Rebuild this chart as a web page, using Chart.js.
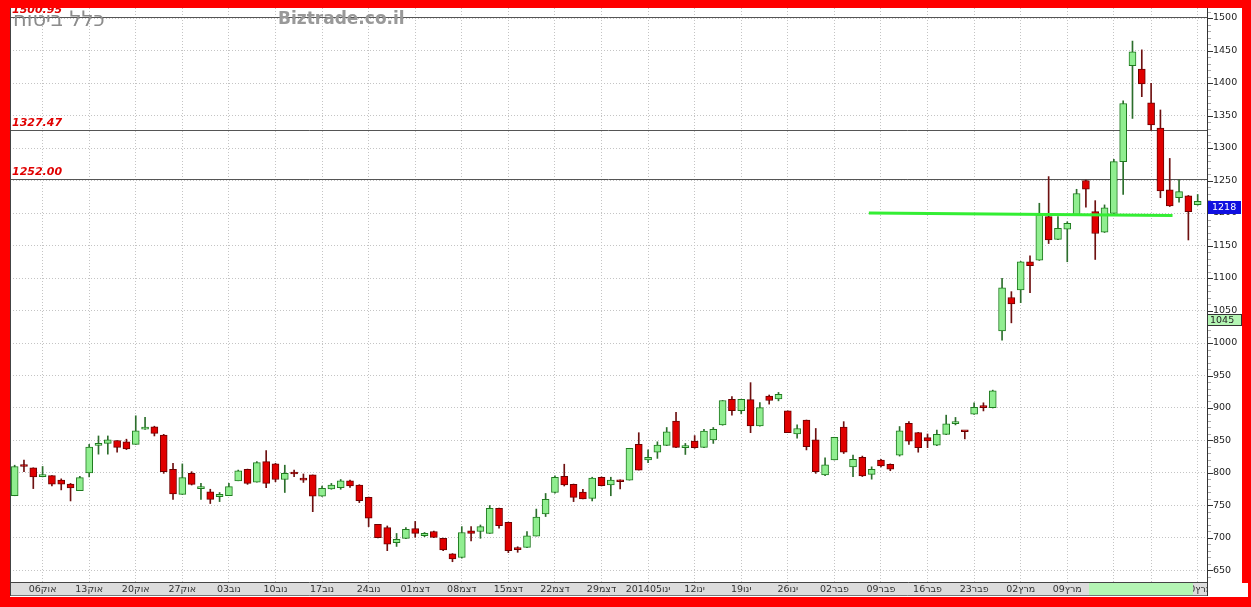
<!DOCTYPE html>
<html><head><meta charset="utf-8">
<script src="https://cdn.jsdelivr.net/npm/chart.js@4.4.1/dist/chart.umd.min.js"></script>
<style>html,body{margin:0;padding:0;background:#ff0000;overflow:hidden}canvas{display:block}</style>
</head><body>
<canvas id="c" width="1251" height="607"></canvas>
<script>
// ---- data (daily candles, index 0..127) ----
const opens  = [765,812,808,794.5,796,789,783,773,800,842.5,845.5,850,848,844,867.5,871,858.5,805.5,767,799.5,776,771,763.5,765,788,805.5,786,817.5,814,790,799.5,790.5,797,764.5,775.5,777.5,788,781.5,762.5,721,716,693,699.5,714.5,703.5,710,699.5,675.5,670,711,710,707,745.5,724,683,685.5,703,737,770,795,782.5,770.5,761,793.5,781.5,789,789,844,820,832,842.5,880,839,849,839.5,851,874,913.5,896,913,872.5,918.5,914,895.5,860,881.5,851,797,820,870.5,809.5,824,798,820,813.5,827.5,876.5,862,854.5,843,859.5,876,864.5,890.5,901.5,900.5,1018.5,1070,1081.5,1125,1127.5,1194.5,1159.5,1175,1198,1250,1202,1170.5,1199.5,1279,1426.5,1421.5,1369.5,1330.5,1235.5,1223.5,1226.5,1213];
const highs  = [812,820,808,810,796,791,784,795,844,857,857,850,852,888,885.5,872,859.5,815,814,802,784,775,770,784,804.5,806,817.5,834.5,815,812,804.5,798.5,797,780,784,790,789,782,763,721,718.5,707,716,725.5,708.5,710.5,700,676,717.5,717.5,720,750,746,724.5,686.5,710,744.5,768.5,795.5,813.5,783,775,793.5,794,793.5,789.5,838,862,835.5,848,870,893.5,845.5,857.5,867,870,911.5,917.5,913.5,939,908.5,920,924,895.5,874,881.5,868.5,823.5,855,879,827.5,826,809.5,821,814,871.5,879,862.5,860,866,889,885.5,864.5,908,908,927.5,1099.5,1079,1125.5,1134,1215,1256,1194.5,1186.5,1236.5,1250.5,1219,1212.5,1282.5,1372.5,1464.5,1451,1399.5,1358.5,1284,1251,1227,1228.5];
const lows   = [765,802,776,794,780,774,757,773,794,829,829,832,836,844,867,857,799.5,759.5,767,781.5,759.5,753,756,765,788,782.5,786,777.5,786.5,770,794.5,785.5,740.5,764,775,775,778,754.5,717.5,700,680.5,687,699,701,702,700.5,680.5,663.5,669,695.5,699.5,707,715,677.5,678,685,703,733,769,780,756,760,757,780,765,775.5,789,804.5,816,822.5,842,839,828.5,838,839,845.5,873.5,889,891,862,872,906,911,862,853.5,835.5,799.5,796,820,830,794.5,794.5,790.5,809.5,803.5,826,844,832,839,842,859,874,852.5,890,895.5,900,1004.5,1031,1062,1077.5,1127,1153,1159,1125,1197,1209,1128.5,1170,1199,1228.5,1345.5,1379,1327.5,1223.5,1210,1216.5,1158.5,1212];
const closes = [810,810,794,795.5,783,783,777,793,840,845.5,851,839.5,837,865,870,861,802,768,793,782.5,777,759.5,767,779,803.5,784,816,784,790,799.5,798.5,789,764.5,776.5,781.5,788,780,757.5,730.5,700.5,690.5,698,713.5,707,707,701,681.5,668,708.5,707,717.5,745.5,719,680.5,682,703.5,732,759.5,793.5,781.5,762.5,760,792,780.5,789,786.5,838,804.5,824,843,863.5,839.5,840,839,864.5,867,911.5,896,913.5,872.5,900.5,911.5,921,862,868.5,840.5,802,812.5,855,832,821,795.5,805.5,811,806,865,849,839,849.5,859.5,875.5,877,863.5,901,900.5,926.5,1085,1060,1125,1119,1197,1158.5,1176.5,1184,1230,1236.5,1168.5,1208,1279,1368.5,1448,1398.5,1335.5,1234,1211,1233,1202,1218];

// ---- axis ticks ----
const xTickIndex  = [3,8,13,18,23,28,33,38,43,48,53,58,63,68,73,78,83,88,93,98,103,108,113,118,122,127];
const xTickLabels = ['06אוק','13אוק','20אוק','27אוק','03נוב','10נוב','17נוב','24נוב','01דצמ','08דצמ','15דצמ','22דצמ','29דצמ','201405ינו','12ינו','19ינו','26ינו','02פבר','09פבר','16פבר','23פבר','02מרץ','09מרץ','16מרץ','23מרץ','30מרץ'];
const yTicks = [650,700,750,800,850,900,950,1000,1050,1100,1150,1200,1250,1300,1350,1400,1450,1500];

// ---- annotations ----
const levelValues = [1500.95, 1327.47, 1252.00];
const levelTexts  = ['1500.95', '1327.47', '1252.00'];
const trendX = [91.7, 124.3];
const trendY = [1200, 1196];
const lastTag = 1218;
const sideTag = 1045;
const titleText = 'כלל ביטוח';
const siteText = 'Biztrade.co.il';

const N = opens.length;
const idx = Array.from({length:N}, (_, i) => i);
const up = idx.map(i => closes[i] >= opens[i]);

const deco = {
  id: 'deco',
  beforeDraw(chart) {
    const {ctx, chartArea: a} = chart;
    ctx.save();
    ctx.fillStyle = '#ff0000'; ctx.fillRect(0, 0, 1251, 607);
    ctx.fillStyle = '#ffffff'; ctx.fillRect(10, 8, 1232, 589);
    ctx.fillStyle = '#dcdcdc'; ctx.fillRect(a.left, a.bottom, a.right - a.left, 14);
    ctx.restore();
  },
  beforeDatasetsDraw(chart) {
    const {ctx, chartArea: a, scales: {y}} = chart;
    ctx.save();
    ctx.strokeStyle = '#555'; ctx.lineWidth = 1;
    levelValues.forEach(v => {
      const py = Math.round(y.getPixelForValue(v)) + 0.5;
      ctx.beginPath(); ctx.moveTo(a.left, py); ctx.lineTo(a.right, py); ctx.stroke();
    });
    ctx.restore();
  },
  afterDraw(chart) {
    const {ctx, chartArea: a, scales: {y}} = chart;
    ctx.save();
    ctx.strokeStyle = '#777'; ctx.lineWidth = 1;
    ctx.beginPath(); ctx.moveTo(a.left, a.bottom + 13.5); ctx.lineTo(a.right, a.bottom + 13.5); ctx.stroke();
    ctx.strokeStyle = '#444';
    ctx.beginPath(); ctx.moveTo(a.left + 0.5, 8); ctx.lineTo(a.left + 0.5, a.bottom + 14); ctx.stroke();
    ctx.fillStyle = '#b4f5b4';
    ctx.fillRect(1089, a.bottom + 1, 104, 12);
    ctx.fillStyle = '#ffffff';
    ctx.fillRect(a.right + 1, a.bottom + 1, 40, 14);
    ctx.strokeStyle = '#333';
    ctx.beginPath(); ctx.moveTo(a.right + 0.5, 8); ctx.lineTo(a.right + 0.5, a.bottom + 14); ctx.stroke();
    for (let v = 640; v <= 1510; v += 10) {
      const py = Math.round(y.getPixelForValue(v)) + 0.5;
      const major = v % 50 === 0;
      ctx.strokeStyle = major ? '#333' : '#aaa';
      ctx.beginPath(); ctx.moveTo(a.right + 1, py); ctx.lineTo(a.right + (major ? 6 : 4), py); ctx.stroke();
    }
    ctx.font = 'italic bold 11px "DejaVu Sans"';
    ctx.fillStyle = '#e00000'; ctx.textBaseline = 'alphabetic'; ctx.textAlign = 'left';
    levelValues.forEach((v, k) => {
      const py = y.getPixelForValue(v);
      ctx.fillText(levelTexts[k], a.left + 2, py - 4);
    });
    ctx.fillStyle = '#999';
    ctx.font = 'bold 17px "DejaVu Sans"';
    ctx.fillText(siteText, 278, 24);
    ctx.font = '21px "DejaVu Sans"';
    ctx.fillStyle = '#8c8c8c';
    ctx.fillText(titleText, 13, 26);
    const ty = Math.round(y.getPixelForValue(lastTag));
    ctx.fillStyle = '#1010e0'; ctx.fillRect(a.right + 1, ty, 33, 13);
    ctx.fillStyle = '#fff'; ctx.font = '9.5px "DejaVu Sans"'; ctx.textBaseline = 'middle';
    ctx.fillText(String(lastTag), a.right + 5, ty + 7);
    const gy = Math.round(y.getPixelForValue(sideTag));
    ctx.fillStyle = '#b4f5b4'; ctx.fillRect(a.right + 1, gy, 34, 12);
    ctx.strokeStyle = '#333'; ctx.strokeRect(a.right + 0.5, gy + 0.5, 34, 11);
    ctx.fillStyle = '#222';
    ctx.fillText(String(sideTag), a.right + 3, gy + 6.5);
    ctx.fillStyle = '#ff0000'; ctx.fillRect(0, 0, 1251, 8);
    ctx.restore();
  }
};

new Chart(document.getElementById('c'), {
  type: 'bar',
  data: {
    datasets: [
      { type: 'line', data: trendX.map((x, k) => ({x, y: trendY[k]})), borderColor: '#33ee33', borderWidth: 3,
        pointRadius: 0, order: 0 },
      { label: 'body', data: idx.map(i => ({x: i, y: [opens[i], closes[i]]})),
        backgroundColor: idx.map(i => up[i] ? '#90ee90' : '#e00000'),
        borderColor: idx.map(i => up[i] ? '#1f7a1f' : '#6e0000'),
        borderWidth: 1, borderSkipped: false, barThickness: 7, grouped: false, minBarLength: 2, order: 1 },
      { label: 'wick', data: idx.map(i => ({x: i, y: [lows[i], highs[i]]})),
        backgroundColor: idx.map(i => up[i] ? '#2c6e2c' : '#6e1010'),
        borderWidth: 0, barThickness: 1, grouped: false, order: 2 }
    ]
  },
  options: {
    responsive: false, animation: false, events: [],
    plugins: { legend: { display: false }, tooltip: { enabled: false } },
    layout: { padding: { left: 10, top: 8, right: 9, bottom: 11 } },
    scales: {
      x: {
        type: 'linear', min: -0.5, max: 128, offset: false,
        afterBuildTicks: s => { s.ticks = xTickIndex.map(v => ({value: v})); },
        afterFit: s => { s.height = 14; s.paddingLeft = 0; s.paddingRight = 0; },
        grid: { offset: false, color: '#c4c4c4', lineWidth: 1, drawTicks: false },
        border: { display: true, color: '#444', dash: [1, 2] },
        ticks: { autoSkip: false, maxRotation: 0, padding: 2, color: '#333',
          font: { family: 'DejaVu Sans', size: 9.5 },
          callback: v => { const k = xTickIndex.indexOf(v); return k >= 0 ? xTickLabels[k] : ''; } }
      },
      y: {
        position: 'right', min: 632.3, max: 1515.4,
        afterBuildTicks: s => { s.ticks = yTicks.map(v => ({value: v})); },
        afterFit: s => { s.width = 35; s.paddingTop = 0; s.paddingBottom = 0; },
        grid: { color: '#c4c4c4', lineWidth: 1, drawTicks: false },
        border: { display: true, color: '#333', dash: [1, 2] },
        ticks: { padding: 6, color: '#222', font: { family: 'DejaVu Sans', size: 9.5 },
          callback: v => String(v) }
      }
    }
  },
  plugins: [deco]
});
</script>
</body></html>
